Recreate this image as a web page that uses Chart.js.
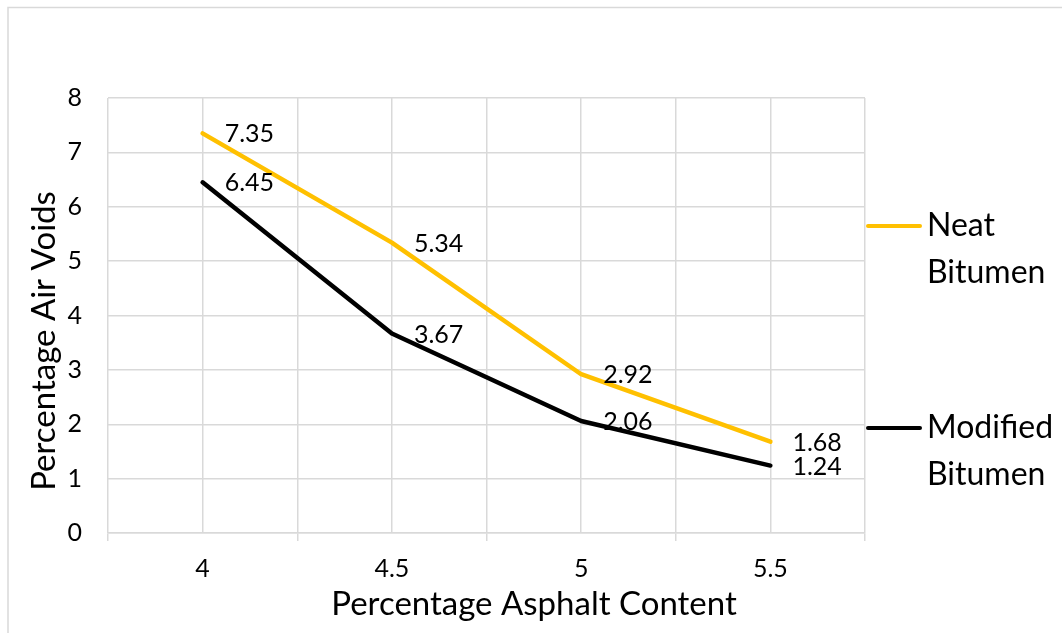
<!DOCTYPE html>
<html>
<head>
<meta charset="utf-8">
<script src="https://cdn.jsdelivr.net/npm/chart.js@4.4.1/dist/chart.umd.min.js"></script>
<style>
  html, body { margin: 0; padding: 0; background: #ffffff; }
  #wrap { width: 1062px; height: 633px; }
</style>
</head>
<body>
<div id="wrap"><canvas id="chart" width="1062" height="633"></canvas></div>
<script>
// Asphalt content (%) on the x axis
const categories = [4, 4.5, 5, 5.5];
// Air voids (%) for each binder
const neatBitumen = [7.35, 5.34, 2.92, 1.68];
const modifiedBitumen = [6.45, 3.67, 2.06, 1.24];
const seriesNames = ['Neat Bitumen', 'Modified Bitumen'];
const yTickValues = [0, 1, 2, 3, 4, 5, 6, 7, 8];
const xTitle = 'Percentage Asphalt Content';
const yTitle = 'Percentage Air Voids';

const FONT = 'Lato, "Open Sans", sans-serif';
const GRID = '#d9d9d9';

function toPoints(values) {
  return categories.map((c, i) => ({ x: c, y: values[i] }));
}

// Value labels placed to the right of each point
const valueLabels = {
  id: 'valueLabels',
  afterDatasetsDraw(chart) {
    const ctx = chart.ctx;
    ctx.save();
    ctx.font = '25px ' + FONT;
    ctx.fillStyle = '#000000';
    ctx.textAlign = 'left';
    ctx.textBaseline = 'middle';
    chart.data.datasets.forEach((ds, di) => {
      const meta = chart.getDatasetMeta(di);
      meta.data.forEach((pt, i) => {
        ctx.fillText(ds.data[i].y.toFixed(2), pt.x + 22, pt.y + 1);
      });
    });
    ctx.restore();
  }
};

// Axis titles, legend on the right and the outer frame
const decorations = {
  id: 'decorations',
  beforeDraw(chart) {
    const ctx = chart.ctx;
    ctx.save();
    ctx.fillStyle = '#ffffff';
    ctx.fillRect(0, 0, chart.width, chart.height);
    ctx.restore();
  },
  afterDraw(chart) {
    const ctx = chart.ctx;
    ctx.save();
    // frame
    ctx.strokeStyle = GRID;
    ctx.lineWidth = 1.5;
    ctx.strokeRect(8, 7.5, chart.width + 20, chart.height + 20);

    // axis titles
    ctx.fillStyle = '#000000';
    ctx.font = '33px ' + FONT;
    ctx.textAlign = 'center';
    ctx.textBaseline = 'middle';
    ctx.fillText(xTitle, 534, 604);
    ctx.translate(44, 341);
    ctx.rotate(-Math.PI / 2);
    ctx.fillText(yTitle, 0, 0);
    ctx.restore();

    // legend
    ctx.save();
    const legendY = [226, 428];
    ctx.font = '32px ' + FONT;
    ctx.textAlign = 'left';
    ctx.textBaseline = 'middle';
    chart.data.datasets.forEach((ds, di) => {
      const y = legendY[di];
      ctx.strokeStyle = ds.borderColor;
      ctx.lineWidth = 4;
      ctx.lineCap = 'round';
      ctx.beginPath();
      ctx.moveTo(868, y);
      ctx.lineTo(920, y);
      ctx.stroke();
      ctx.fillStyle = '#000000';
      ds.label.split(' ').forEach((word, k) => {
        ctx.fillText(word, 927, y + k * 47);
      });
    });
    ctx.restore();
  }
};

const chart = new Chart(document.getElementById('chart'), {
  type: 'line',
  data: {
    datasets: [
      {
        label: seriesNames[0],
        data: toPoints(neatBitumen),
        borderColor: '#FFC000',
        backgroundColor: '#FFC000',
        borderWidth: 4.5,
        pointRadius: 0,
        tension: 0,
        borderCapStyle: 'round',
        borderJoinStyle: 'round'
      },
      {
        label: seriesNames[1],
        data: toPoints(modifiedBitumen),
        borderColor: '#000000',
        backgroundColor: '#000000',
        borderWidth: 4.5,
        pointRadius: 0,
        tension: 0,
        borderCapStyle: 'round',
        borderJoinStyle: 'round'
      }
    ]
  },
  options: {
    responsive: false,
    animation: false,
    layout: { padding: { top: 98, right: 197, left: 0, bottom: 0 } },
    plugins: {
      legend: { display: false },
      tooltip: { enabled: false }
    },
    scales: {
      x: {
        type: 'linear',
        min: categories[0] - 0.25,
        max: categories[categories.length - 1] + 0.25,
        afterBuildTicks(scale) {
          const t = [];
          for (let v = scale.min; v <= scale.max + 1e-9; v += 0.25) t.push({ value: Math.round(v * 100) / 100 });
          scale.ticks = t;
        },
        afterFit(scale) { scale.height = 100; },
        grid: {
          color: GRID,
          lineWidth: 1.5,
          tickLength: 8,
          tickColor(ctx) {
            const v = ctx.tick ? ctx.tick.value : null;
            return categories.includes(v) ? 'rgba(0,0,0,0)' : GRID;
          }
        },
        border: { color: GRID, width: 1.5 },
        ticks: {
          autoSkip: false,
          maxRotation: 0,
          padding: 13,
          color: '#000000',
          font: { family: FONT, size: 25 },
          callback(value) {
            return categories.includes(value) ? String(value) : '';
          }
        }
      },
      y: {
        min: yTickValues[0],
        max: yTickValues[yTickValues.length - 1],
        afterBuildTicks(scale) {
          scale.ticks = yTickValues.map(v => ({ value: v }));
        },
        afterFit(scale) { scale.width = 108; },
        grid: { color: GRID, lineWidth: 1.5, drawTicks: false },
        border: { display: false },
        ticks: {
          padding: 26,
          color: '#000000',
          font: { family: FONT, size: 25 }
        }
      }
    }
  },
  plugins: [decorations, valueLabels]
});
</script>
</body>
</html>
